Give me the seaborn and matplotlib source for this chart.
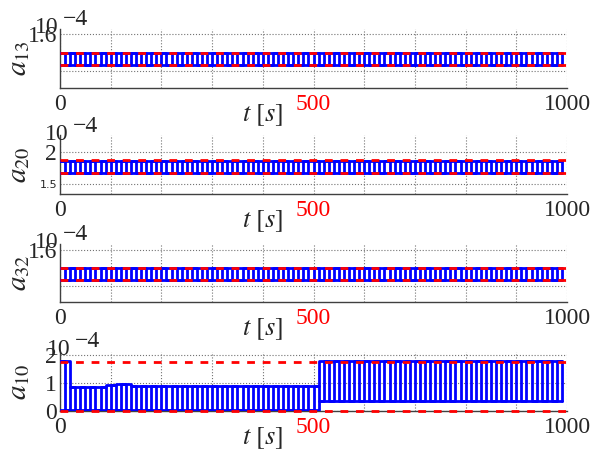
import numpy as np
import pandas as pd
import matplotlib
matplotlib.use('Agg')
import matplotlib.pyplot as plt
import seaborn as sns

# all amplitudes in units of 1e-4 (the "10^-4" drawn over each axis)
pulse_step = 10     # seconds between switching edges
t_end = 990

a13_starts = [0]
a13_upper = [1.548]
a13_lower = [1.516]
a13_bounds = [1.548, 1.516]

a20_starts = [0]
a20_upper = [1.862]
a20_lower = [1.678]
a20_bounds = [1.865, 1.675]

a32_starts = [0]
a32_upper = [1.549]
a32_lower = [1.515]
a32_bounds = [1.549, 1.515]

a10_starts = [0, 20, 85, 110, 135, 510]
a10_upper = [1.8, 0.85, 0.92, 0.97, 0.91, 1.8]
a10_lower = [0.04, 0.04, 0.04, 0.04, 0.04, 0.36]
a10_bounds = [1.75, 0.0]

x_ticks = list(range(0, 1001, 100))
x_ticklabels = ['0', '', '', '', '', '500', '', '', '', '', '1000']


def pulse_frame(starts, upper, lower):
    t = np.arange(0, t_end + pulse_step, pulse_step)
    seg = np.searchsorted(starts, t, side='right') - 1
    up = np.array(upper)[seg]
    lo = np.array(lower)[seg]
    sig = np.where(np.arange(len(t)) % 2 == 0, up, lo)
    return pd.DataFrame({'t': t, 'signal': sig, 'upper': up, 'lower': lo})


sns.set_style('white')
plt.rcParams['font.family'] = ['Liberation Serif', 'DejaVu Serif']
plt.rcParams['mathtext.fontset'] = 'stix'

fig = plt.figure(figsize=(6, 4.5), dpi=100)

panels = [
    dict(name='a_{13}', starts=a13_starts, upper=a13_upper, lower=a13_lower,
         bounds=a13_bounds, rect=[0.1, 0.8044, 0.845, 0.1311],
         ylim=(1.4537, 1.6144), yticks=[1.5, 1.6], ylabels=['', '1.6'],
         exp_pos=(35, 33)),
    dict(name='a_{20}', starts=a20_starts, upper=a20_upper, lower=a20_lower,
         bounds=a20_bounds, rect=[0.1, 0.5689, 0.845, 0.1311],
         ylim=(1.351, 2.256), yticks=[1.5, 2.0], ylabels=['1.5', '2'],
         exp_pos=(45, 140)),
    dict(name='a_{32}', starts=a32_starts, upper=a32_upper, lower=a32_lower,
         bounds=a32_bounds, rect=[0.1, 0.3289, 0.845, 0.129],
         ylim=(1.4547, 1.617), yticks=[1.5, 1.6], ylabels=['', '1.6'],
         exp_pos=(35, 248)),
    dict(name='a_{10}', starts=a10_starts, upper=a10_upper, lower=a10_lower,
         bounds=a10_bounds, rect=[0.1, 0.0867, 0.845, 0.1311],
         ylim=(0, 2.107), yticks=[0, 1, 2], ylabels=['0', '1', '2'],
         exp_pos=(47, 355)),
]

for p in panels:
    ax = fig.add_axes(p['rect'])
    df = pulse_frame(p['starts'], p['upper'], p['lower'])

    # pulse train plus its envelopes
    for col in ['signal', 'upper', 'lower']:
        sns.lineplot(data=df, x='t', y=col, ax=ax, color='blue', lw=2,
                     drawstyle='steps-post', estimator=None, zorder=3)
    for b in p['bounds']:
        ax.axhline(b, color='red', ls='--', lw=2, dashes=(2.8, 2.8),
                   zorder=4, clip_on=False)

    ax.set_xlim(0, 1000)
    ax.set_ylim(*p['ylim'])
    ax.set_xticks(x_ticks)
    ax.set_xticklabels(x_ticklabels)
    ax.set_yticks(p['yticks'])
    ax.set_yticklabels(p['ylabels'])

    ax.tick_params(direction='in', length=4, width=1, color='0.2',
                   labelsize=17)
    ax.tick_params(axis='x', pad=4)
    ax.tick_params(axis='y', pad=2)
    ax.get_xticklabels()[5].set_color('red')
    if p['ylabels'][0] == '1.5':
        ax.get_yticklabels()[0].set_fontfamily('DejaVu Sans')
        ax.get_yticklabels()[0].set_fontsize(8)

    ax.grid(True, ls=':', color='0.45', lw=0.8)
    for s in ['top', 'right']:
        ax.spines[s].set_visible(False)
    for s in ['left', 'bottom']:
        ax.spines[s].set_color('0.25')
        ax.spines[s].set_linewidth(1)

    ax.set_xlabel(r'$t\ [s]$', fontsize=19)
    ax.xaxis.set_label_coords(0.40, -0.24)
    ax.set_ylabel('$' + p['name'] + '$', fontsize=21)
    ax.yaxis.set_label_coords(-0.055, 0.5)

    # exponent label, MATLAB style
    ex, ey = p['exp_pos']
    fig.text(ex / 600, 1 - ey / 450, '10', fontsize=17, va='baseline')
    fig.text((ex + 28) / 600, 1 - (ey - 8) / 450, '\u22124', fontsize=17,
             va='baseline')

fig.savefig('out.png', dpi=100)
